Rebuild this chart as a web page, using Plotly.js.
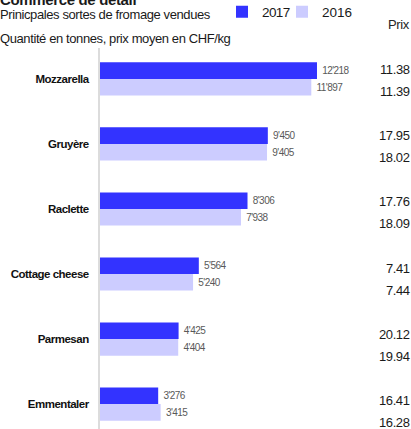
<!DOCTYPE html>
<html>
<head>
<meta charset="utf-8">
<script src="https://cdn.plot.ly/plotly-3.0.1.min.js"></script>
<style>
html,body{margin:0;padding:0;background:#fff;}
#chart{width:411px;height:429px;}
text.gtitle{letter-spacing:-0.35px;}
.ytick text{letter-spacing:-0.5px;}
text.bartext{letter-spacing:-0.55px;}
text.legendtext{letter-spacing:-0.6px;}
text.annotation-text{letter-spacing:-0.4px;}
</style>
</head>
<body>
<div id="chart"></div>
<script>
const categories = ['Mozzarella', 'Gruyère', 'Raclette', 'Cottage cheese', 'Parmesan', 'Emmentaler'];
const qty2017 = [12218, 9450, 8306, 5564, 4425, 3276];
const qty2016 = [11897, 9405, 7938, 5240, 4404, 3415];
const price2017 = [11.38, 17.95, 17.76, 7.41, 20.12, 16.41];
const price2016 = [11.39, 18.02, 18.09, 7.44, 19.94, 16.28];
const seriesNames = ['2017', '2016'];

const FONT = '"Liberation Sans", Arial, sans-serif';
const W = 411, H = 429, L = 100, R = 1, T = 48, B = 0;
const plotW = W - L - R, plotH = H - T - B;

const barCommon = {
  type: 'bar', orientation: 'h', y: categories,
  textposition: 'outside', cliponaxis: false, constraintext: 'none',
  texttemplate: '\u00a0%{x:,}',
  textfont: {family: FONT, size: 10, color: '#595959'},
  hoverinfo: 'none'
};
const data = [
  Object.assign({}, barCommon, {x: qty2017, name: seriesNames[0], marker: {color: '#3333ff'}, legend: 'legend'}),
  Object.assign({}, barCommon, {x: qty2016, name: seriesNames[1], marker: {color: '#ccccff'}, legend: 'legend2'})
];

const annotations = [];
const pxToPaperX = px => (px - L) / plotW;
const pxToPaperY = py => 1 - (py - T) / plotH;
annotations.push({xref: 'paper', yref: 'paper', x: pxToPaperX(0), xshift: -2, y: pxToPaperY(14.5), xanchor: 'left', yanchor: 'middle',
  text: 'Prinicpales sortes de fromage vendues', showarrow: false, font: {family: FONT, size: 13, color: '#1a1a1a'}});
annotations.push({xref: 'paper', yref: 'paper', x: pxToPaperX(0), xshift: -2, y: pxToPaperY(38.5), xanchor: 'left', yanchor: 'middle',
  text: 'Quantité en tonnes, prix moyen en CHF/kg', showarrow: false, font: {family: FONT, size: 13, color: '#1a1a1a'}});
annotations.push({xref: 'paper', yref: 'paper', x: 1, xshift: 2, y: pxToPaperY(24), xanchor: 'right', yanchor: 'middle',
  text: 'Prix', showarrow: false, font: {family: FONT, size: 13, color: '#262626'}});
categories.forEach((c, i) => {
  annotations.push({xref: 'paper', yref: 'y2', x: 1, xshift: 2, y: c, yshift: 11, xanchor: 'right', yanchor: 'middle',
    text: price2017[i].toFixed(2), showarrow: false, font: {family: FONT, size: 13, color: '#1a1a1a'}});
  annotations.push({xref: 'paper', yref: 'y2', x: 1, xshift: 2, y: c, yshift: -11, xanchor: 'right', yanchor: 'middle',
    text: price2016[i].toFixed(2), showarrow: false, font: {family: FONT, size: 13, color: '#1a1a1a'}});
});

// invisible trace to register the categories on the price axis
data.push({type: 'scatter', mode: 'none', x: categories.map(() => null), y: categories, yaxis: 'y2', showlegend: false, hoverinfo: 'none'});

const legendCommon = {orientation: 'h', xref: 'container', yref: 'container', xanchor: 'left', yanchor: 'middle',
  y: 1 - 12 / H, bgcolor: 'rgba(0,0,0,0)', borderwidth: 0, font: {family: FONT, size: 13.5, color: '#1a1a1a'}};

const layout = {
  width: W, height: H,
  margin: {l: L, r: R, t: T, b: B, pad: 0},
  paper_bgcolor: '#ffffff', plot_bgcolor: '#ffffff',
  separators: ".'",
  barmode: 'group', bargap: 0.49, bargroupgap: 0,
  title: {text: '<b>Commerce de détail</b>', xref: 'container', yref: 'container', x: 0, y: 1,
    xanchor: 'left', yanchor: 'middle', pad: {t: 0, b: 0, l: 0, r: 0},
    font: {family: FONT, size: 15, color: '#1a1a1a'}},
  xaxis: {range: [0, plotW / 17.76 * 1000], visible: false, fixedrange: true},
  yaxis: {type: 'category', range: [5.383, -0.475], showline: true, linecolor: '#dcdcdc', linewidth: 2,
    showgrid: false, zeroline: false, ticks: '', ticklabelstandoff: 7,
    tickfont: {family: FONT, size: 11.5, color: '#111111', weight: 'bold'}, fixedrange: true},
  yaxis2: {type: 'category', overlaying: 'y', range: [5.266, -0.491], visible: false, fixedrange: true},
  legend: Object.assign({}, legendCommon, {x: 222 / W}),
  legend2: Object.assign({}, legendCommon, {x: 282 / W}),
  annotations: annotations,
  showlegend: true,
  hovermode: false
};

Plotly.newPlot('chart', data, layout, {displayModeBar: false, staticPlot: true});
</script>
</body>
</html>
